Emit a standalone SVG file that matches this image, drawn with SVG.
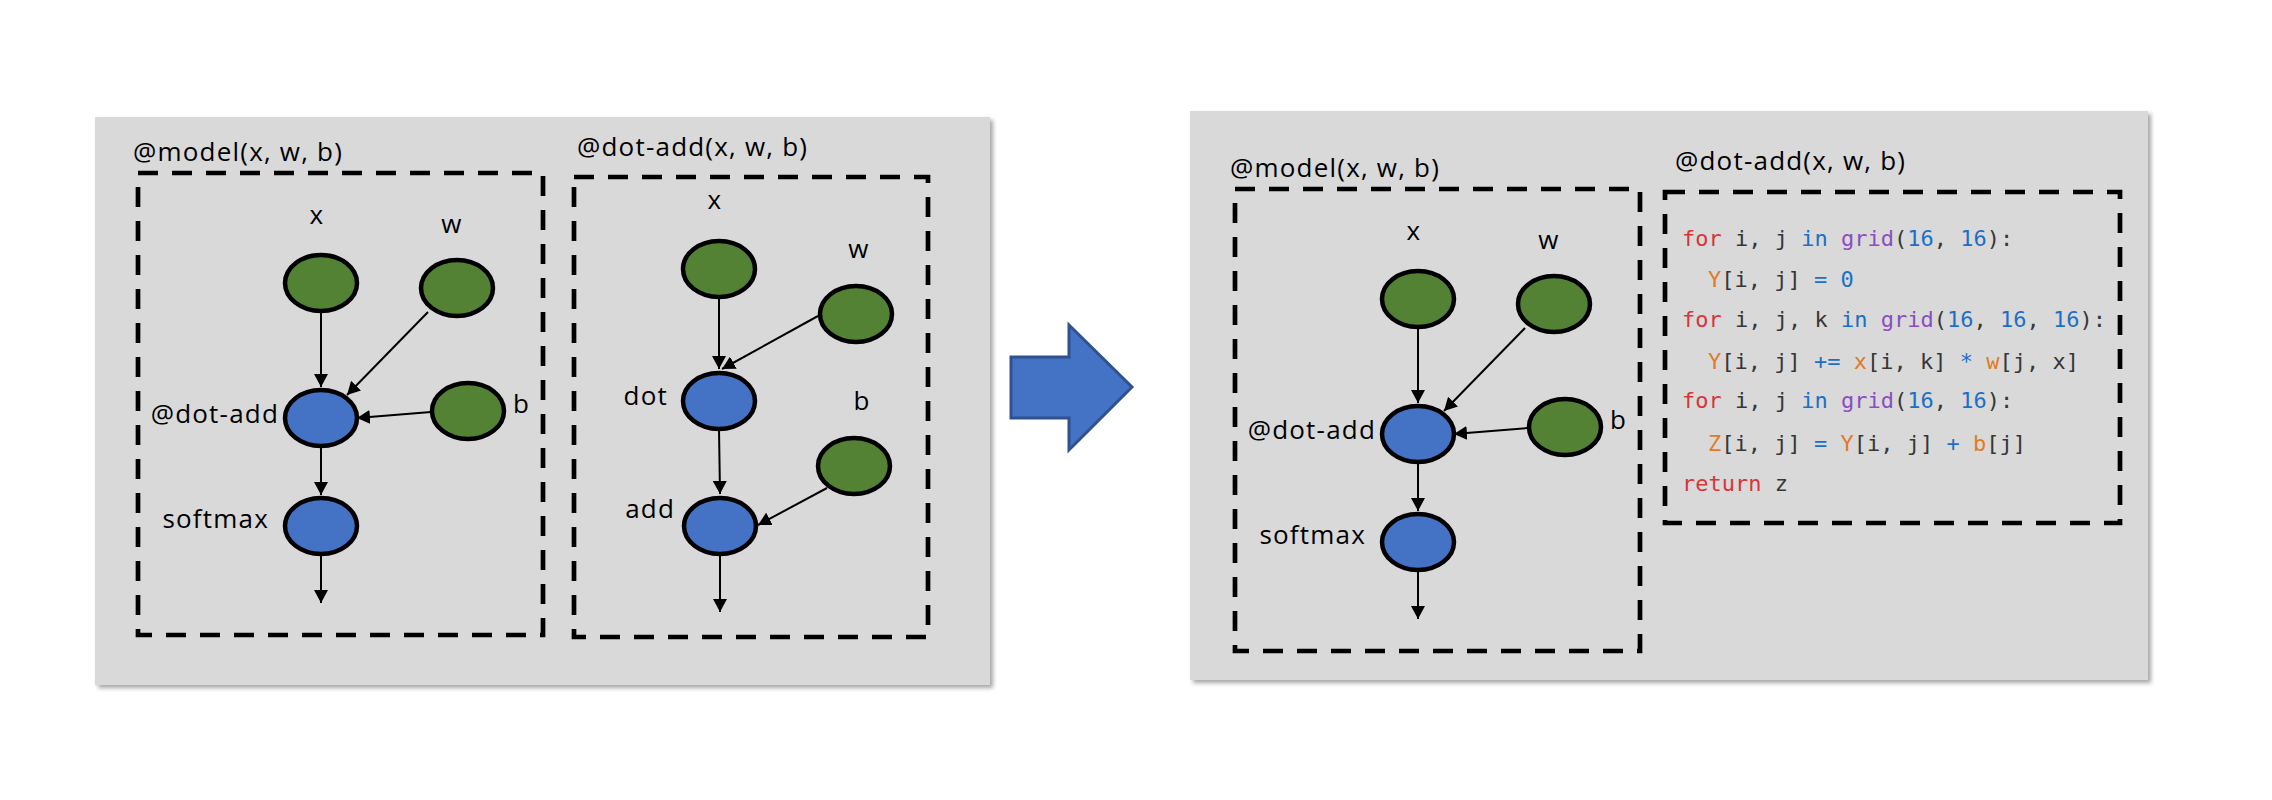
<svg xmlns="http://www.w3.org/2000/svg" width="2272" height="800" viewBox="0 0 2272 800">
<style>
.panel{fill:#D9D9D9;}
.dash{fill:none;stroke:#000;stroke-width:4.7;stroke-dasharray:20 14;}
.in{fill:#548235;stroke:#000;stroke-width:4.5;}
.op{fill:#4472C4;stroke:#000;stroke-width:4.5;}
.lbl{font-family:"Open Sans","Noto Sans",sans-serif;font-size:26px;letter-spacing:1.2px;fill:#000;}
.ttl{font-family:"Open Sans","Noto Sans",sans-serif;font-size:26px;letter-spacing:1.2px;fill:#000;}
.edge{stroke:#000;stroke-width:2;fill:none;marker-end:url(#ah);}
.code{font-family:"DejaVu Sans Mono","Liberation Mono",monospace;font-size:22px;fill:#363636;}
.kw{fill:#D8353B;}
.bl{fill:#1C6FC6;}
.pu{fill:#8B4DC3;}
.or{fill:#E07B24;}
</style>
<defs>
<marker id="ah" viewBox="0 0 13 14" refX="13" refY="7" markerWidth="13" markerHeight="14" markerUnits="userSpaceOnUse" orient="auto">
<path d="M0,0 L13,7 L0,14 z" fill="#000"/>
</marker>
<filter id="sh" x="-5%" y="-5%" width="110%" height="110%">
<feDropShadow dx="3" dy="3" stdDeviation="2" flood-color="#000" flood-opacity="0.35"/>
</filter>
</defs>
<rect width="2272" height="800" fill="#FFFFFF"/>

<!-- Panels -->
<g id="panel-left">
<rect class="panel" x="95" y="117" width="895" height="568" filter="url(#sh)"/>
</g>
<g id="panel-right">
<rect class="panel" x="1190" y="111" width="958" height="569" filter="url(#sh)"/>
</g>

<!-- Group frames -->
<g id="group-model-left">
<text class="ttl" x="133" y="161">@model(x, w, b)</text>
<rect class="dash" x="138" y="173" width="405" height="462"/>
</g>
<g id="group-dotadd-left">
<text class="ttl" x="577" y="156">@dot-add(x, w, b)</text>
<rect class="dash" x="574" y="177" width="354" height="460"/>
</g>
<g id="group-model-right">
<text class="ttl" x="1230" y="177">@model(x, w, b)</text>
<rect class="dash" x="1235" y="189" width="405" height="462"/>
</g>
<g id="group-dotadd-code">
<text class="ttl" x="1675" y="170">@dot-add(x, w, b)</text>
<rect class="dash" x="1665" y="192" width="455" height="331"/>
<text class="code" x="1682" y="246"><tspan class="kw">for</tspan> i, j <tspan class="bl">in</tspan> <tspan class="pu">grid</tspan>(<tspan class="bl">16</tspan>, <tspan class="bl">16</tspan>):</text>
<text class="code" x="1708" y="287"><tspan class="or">Y</tspan>[i, j] <tspan class="bl">=</tspan> <tspan class="bl">0</tspan></text>
<text class="code" x="1682" y="327"><tspan class="kw">for</tspan> i, j, k <tspan class="bl">in</tspan> <tspan class="pu">grid</tspan>(<tspan class="bl">16</tspan>, <tspan class="bl">16</tspan>, <tspan class="bl">16</tspan>):</text>
<text class="code" x="1708" y="369"><tspan class="or">Y</tspan>[i, j] <tspan class="bl">+=</tspan> <tspan class="or">x</tspan>[i, k] <tspan class="bl">*</tspan> <tspan class="or">w</tspan>[j, x]</text>
<text class="code" x="1682" y="408"><tspan class="kw">for</tspan> i, j <tspan class="bl">in</tspan> <tspan class="pu">grid</tspan>(<tspan class="bl">16</tspan>, <tspan class="bl">16</tspan>):</text>
<text class="code" x="1708" y="451"><tspan class="or">Z</tspan>[i, j] <tspan class="bl">=</tspan> <tspan class="or">Y</tspan>[i, j] <tspan class="bl">+</tspan> <tspan class="or">b</tspan>[j]</text>
<text class="code" x="1682" y="491"><tspan class="kw">return</tspan> z</text>
</g>

<!-- Block arrow -->
<g id="transform-arrow">
<polygon points="1011,357 1069,357 1069,325 1132,387 1069,450 1069,418 1011,418" fill="#4472C4" stroke="#2F528F" stroke-width="3" stroke-linejoin="miter"/>
</g>

<!-- Connectors -->
<g id="connectors">
<line class="edge" x1="321" y1="311" x2="321" y2="387"/>
<line class="edge" x1="428" y1="312" x2="347" y2="395"/>
<line class="edge" x1="431" y1="412" x2="357" y2="418"/>
<line class="edge" x1="321" y1="446" x2="321" y2="495"/>
<line class="edge" x1="321" y1="554" x2="321" y2="603"/>

<line class="edge" x1="719" y1="297" x2="719" y2="369"/>
<line class="edge" x1="818" y1="316" x2="722" y2="369"/>
<line class="edge" x1="719" y1="429" x2="720" y2="494"/>
<line class="edge" x1="827" y1="488" x2="758" y2="525"/>
<line class="edge" x1="720" y1="554" x2="720" y2="612"/>

<line class="edge" x1="1418" y1="327" x2="1418" y2="403"/>
<line class="edge" x1="1525" y1="328" x2="1444" y2="411"/>
<line class="edge" x1="1528" y1="428" x2="1454" y2="434"/>
<line class="edge" x1="1418" y1="462" x2="1418" y2="511"/>
<line class="edge" x1="1418" y1="570" x2="1418" y2="619"/>
</g>

<!-- Left model nodes -->
<g id="L-x"><ellipse class="in" cx="321" cy="283" rx="36" ry="28"/><text class="lbl" x="317" y="224" text-anchor="middle">x</text></g>
<g id="L-w"><ellipse class="in" cx="457" cy="288" rx="36" ry="28"/><text class="lbl" x="452" y="233" text-anchor="middle">w</text></g>
<g id="L-dotadd"><ellipse class="op" cx="321" cy="418" rx="36" ry="28"/><text class="lbl" x="279" y="423" text-anchor="end">@dot-add</text></g>
<g id="L-b"><ellipse class="in" cx="468" cy="411" rx="36" ry="28"/><text class="lbl" x="513" y="413">b</text></g>
<g id="L-softmax"><ellipse class="op" cx="321" cy="526" rx="36" ry="28"/><text class="lbl" x="269" y="528" text-anchor="end">softmax</text></g>

<!-- Left dot-add nodes -->
<g id="D-x"><ellipse class="in" cx="719" cy="269" rx="36" ry="28"/><text class="lbl" x="715" y="209" text-anchor="middle">x</text></g>
<g id="D-w"><ellipse class="in" cx="856" cy="314" rx="36" ry="28"/><text class="lbl" x="859" y="258" text-anchor="middle">w</text></g>
<g id="D-dot"><ellipse class="op" cx="719" cy="401" rx="36" ry="28"/><text class="lbl" x="668" y="405" text-anchor="end">dot</text></g>
<g id="D-b"><ellipse class="in" cx="854" cy="466" rx="36" ry="28"/><text class="lbl" x="862" y="410" text-anchor="middle">b</text></g>
<g id="D-add"><ellipse class="op" cx="720" cy="526" rx="36" ry="28"/><text class="lbl" x="675" y="518" text-anchor="end">add</text></g>

<!-- Right model nodes -->
<g id="R-x"><ellipse class="in" cx="1418" cy="299" rx="36" ry="28"/><text class="lbl" x="1414" y="240" text-anchor="middle">x</text></g>
<g id="R-w"><ellipse class="in" cx="1554" cy="304" rx="36" ry="28"/><text class="lbl" x="1549" y="249" text-anchor="middle">w</text></g>
<g id="R-dotadd"><ellipse class="op" cx="1418" cy="434" rx="36" ry="28"/><text class="lbl" x="1376" y="439" text-anchor="end">@dot-add</text></g>
<g id="R-b"><ellipse class="in" cx="1565" cy="427" rx="36" ry="28"/><text class="lbl" x="1610" y="429">b</text></g>
<g id="R-softmax"><ellipse class="op" cx="1418" cy="542" rx="36" ry="28"/><text class="lbl" x="1366" y="544" text-anchor="end">softmax</text></g>
</svg>
